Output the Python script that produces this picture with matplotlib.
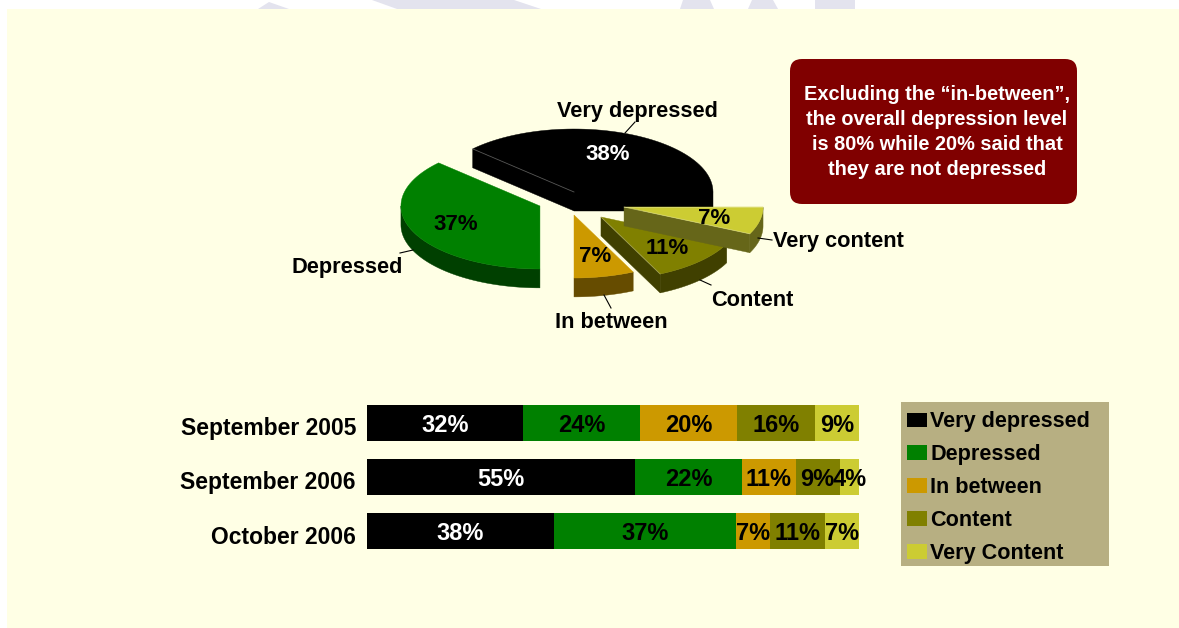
import numpy as np
import matplotlib
matplotlib.use('Agg')
import matplotlib.pyplot as plt
from matplotlib.patches import Rectangle, Polygon, FancyBboxPatch
from matplotlib.transforms import ScaledTranslation

plt.rcParams['font.family'] = ['Liberation Sans', 'DejaVu Sans']
plt.rcParams['font.weight'] = 'bold'

W, H = 1179, 628

categories = ['Very depressed', 'Depressed', 'In between', 'Content', 'Very Content']
periods = ['September 2005', 'September 2006', 'October 2006']
sep_2005 = [32, 24, 20, 16, 9]
sep_2006 = [55, 22, 11, 9, 4]
oct_2006 = [38, 37, 7, 11, 7]
pie_values = [38, 37, 7, 11, 7]

top_colors = ['#000000', '#008000', '#CC9900', '#808000', '#CCCC33']
side_colors = ['#000000', '#004000', '#664C00', '#404000', '#666619']
text_colors = ['white', 'black', 'black', 'black', 'black']

# slice offsets from the pie centre, in radii
offsets = [(0, 0), (-0.245, -0.222), (0, -0.365), (0.194, -0.397), (0.360, -0.238)]
depth = 0.30
# which cut edges get a thin light line: (start, end)
edge_lines = [(False, True), (False, False), (False, False), (True, False), (True, True)]


def px_axes(x0, y0, x1, y1, **kw):
    return fig.add_axes([x0 / W, 1 - y1 / H, (x1 - x0) / W, (y1 - y0) / H], **kw)


fig = plt.figure(figsize=(W / 100, H / 100), dpi=100, facecolor='white')

# page background, with the bits of logo showing above it
bg = px_axes(0, 0, W, H, zorder=0)
bg.set_xlim(0, W)
bg.set_ylim(H, 0)
bg.axis('off')
for pts in ([(258, 9), (269, 2), (289, 9)],
            [(372, 0), (514, 0), (541, 9), (397, 9)],
            [(683, 0), (710, 0), (714, 9), (680, 9)],
            [(752, 0), (773, 0), (778, 9), (748, 9)],
            [(815, 0), (855, 0), (855, 9), (815, 9)]):
    bg.add_patch(Polygon(pts, fc='#E3E3EE', ec='none'))
bg.add_patch(Rectangle((7, 9), W - 7, H - 9, fc='#FFFFE5', ec='none'))
bg.add_patch(FancyBboxPatch((790, 59), 287, 145, boxstyle='round,pad=0,rounding_size=12',
                            fc='#800000', ec='none'))
bg.add_patch(Rectangle((901, 402), 208, 164, fc='#B7AF82', ec='none'))
bg.text(937, 132, 'Excluding the \u201cin-between\u201d,\nthe overall depression level\n'
        'is 80% while 20% said that\nthey are not depressed',
        color='white', fontsize=14.4, ha='center', va='center', linespacing=1.39)

# exploded pie, tilted by giving y a smaller scale than x
ax_pie = px_axes(574 - 278, 192 - 189, 574 + 278, 192 + 189, zorder=1)
ax_pie.set_xlim(-2, 2)
ax_pie.set_ylim(-3, 3)
ax_pie.axis('off')


def arc(a0, a1):
    t = np.radians(np.linspace(a0, a1, 60))
    return np.column_stack([np.cos(t), np.sin(t)])


shares = np.array(pie_values) / np.sum(pie_values) * 360
starts = np.concatenate([[0], np.cumsum(shares)[:-1]])
drop = np.array([0, depth])

for a0, share, off, top, side, lines in zip(starts, shares, offsets, top_colors, side_colors, edge_lines):
    a1 = a0 + share
    c = np.array(off)
    # cut faces that turn towards the viewer
    for a, normal in ((a0, a0 - 90), (a1, a1 + 90)):
        if np.sin(np.radians(normal)) < -1e-6:
            edge = arc(a, a)[0]
            face = [c, c + edge, c + edge - drop, c - drop]
            ax_pie.add_patch(Polygon(face, fc=side, ec=side, lw=0.3))
    # outer rim on the front half
    r0, r1 = max(a0, 180), min(a1, 360)
    if r1 > r0:
        outer = arc(r0, r1)
        rim = np.vstack([c + outer, (c + outer - drop)[::-1]])
        ax_pie.add_patch(Polygon(rim, fc=side, ec=side, lw=0.3))
    rim_pts = arc(a0, a1)
    ax_pie.add_patch(Polygon(np.vstack([c, c + rim_pts]), fc=top, ec=top, lw=0.3))
    for pt, show in zip((rim_pts[0], rim_pts[-1]), lines):
        if show:
            ax_pie.plot([c[0], c[0] + pt[0]], [c[1], c[1] + pt[1]], color='white', alpha=0.25, lw=0.7)

# pie labels and leader lines
over = px_axes(0, 0, W, H, zorder=3)
over.set_xlim(0, W)
over.set_ylim(H, 0)
over.axis('off')
for x, y, name, pct_x, pct_y, pct, col in (
        (637, 112, 'Very depressed', 608, 155, pie_values[0], 'white'),
        (347, 268, 'Depressed', 456, 225, pie_values[1], 'black'),
        (611, 322, 'In between', 595, 257, pie_values[2], 'black'),
        (752, 300, 'Content', 667, 248, pie_values[3], 'black'),
        (838, 242, 'Very content', 714, 218, pie_values[4], 'black')):
    over.text(x, y, name, fontsize=15.7, ha='center', va='center', color='black')
    over.text(pct_x, pct_y, f'{pct}%', fontsize=16, ha='center', va='center', color=col)
for xs, ys in (((635, 625), (122, 133)), ((400, 413), (253, 250)), ((604, 611), (295, 308)),
               ((700, 711), (280, 285)), ((758, 772), (238, 240))):
    over.plot(xs, ys, color='black', lw=0.8)

# stacked bars, each row normalised to its own total
ax_bar = px_axes(367, 396, 859, 558, zorder=2)
ax_bar.patch.set_alpha(0)
rows = np.array([sep_2005, sep_2006, oct_2006], dtype=float)
totals = rows.sum(axis=1, keepdims=True)
fracs = rows / totals
left = np.zeros(3)
y = np.arange(3)
for i, name in enumerate(categories):
    bars = ax_bar.barh(y, fracs[:, i], left=left, height=0.68, color=top_colors[i], label=name)
    texts = ax_bar.bar_label(bars, labels=[f'{int(v)}%' for v in rows[:, i]], label_type='center',
                             fontsize=17, fontweight='bold', color=text_colors[i])
    for t in texts:
        t.xyann = (0, -2)
    left += fracs[:, i]
ax_bar.set_xlim(0, 1)
ax_bar.set_ylim(2.5, -0.5)
ax_bar.set_xticks([])
ax_bar.set_yticks(y, periods, fontsize=16.5)
ax_bar.tick_params(axis='y', length=0, pad=8)
shift = ScaledTranslation(0, -3.5 / 100, fig.dpi_scale_trans)
for t in ax_bar.get_yticklabels():
    t.set_transform(t.get_transform() + shift)
for s in ax_bar.spines.values():
    s.set_visible(False)

leg = ax_bar.legend(loc='upper left', bbox_to_anchor=(902 / W, 1 - 406 / H),
                    bbox_transform=fig.transFigure, frameon=False, fontsize=15.6,
                    handlelength=0.92, handleheight=0.65, handletextpad=0.14,
                    labelspacing=0.55, borderpad=0.25, borderaxespad=0)

fig.savefig('out.png', dpi=100, facecolor='white')
